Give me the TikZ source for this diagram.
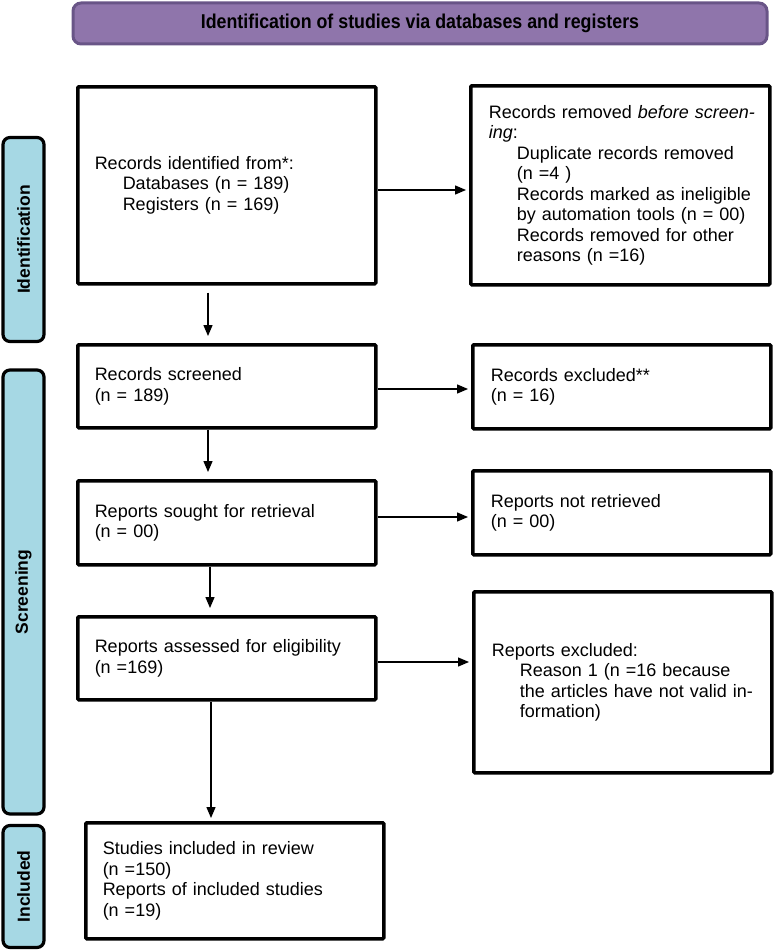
\documentclass[tikz,border=0pt]{standalone}
\usepackage{fontspec}
\setmainfont{Liberation Sans}
\usetikzlibrary{arrows.meta}
\definecolor{hdrfill}{RGB}{143,117,171}
\definecolor{hdrdraw}{RGB}{105,85,135}
\definecolor{tabfill}{RGB}{166,216,228}
\tikzset{
  box/.style={draw=black, line width=3.5pt, fill=white, rounded corners=1pt,
    inner xsep=17pt, inner ysep=0pt, align=left, anchor=north west,
    font=\fontsize{18}{20.5}\selectfont},
  tab/.style={draw=black, line width=3.2pt, fill=tabfill, rounded corners=7pt},
  tablabel/.style={rotate=90, font=\fontsize{17.5}{20}\selectfont\bfseries},
  arr/.style={line width=1.3pt, -{Triangle[length=11pt,width=9pt]}},
}
\begin{document}
\begin{tikzpicture}[x=1pt,y=-1pt]
\useasboundingbox (0,0) rectangle (775,950);
% header
\node[draw=hdrdraw, line width=3pt, fill=hdrfill, rounded corners=8pt,
  minimum width=694pt, minimum height=41pt, inner sep=0pt] (hdr) at (420,23.5)
  {\scalebox{0.89}[1]{\fontsize{20}{22}\selectfont\bfseries Identification of studies via databases and registers}};
% side tabs
\node[tab, minimum width=41pt, minimum height=204pt] (tid) at (23.5,239.5) {};
\node[tablabel] at (tid.center) {Identification};
\node[tab, minimum width=41pt, minimum height=444pt] (tsc) at (23.5,592) {};
\node[tablabel] at (tsc.center) {Screening};
\node[tab, minimum width=41pt, minimum height=122pt] (tin) at (23.5,886.5) {};
\node[tablabel] at (tin.center) {Included};
% left column
\node[box, text width=264pt, minimum height=197pt] (b1) at (76,85) {Records identified from*:\\
\hspace*{28pt}Databases (n = 189)\\
\hspace*{28pt}Registers (n = 169)};
\node[box, text width=264pt, minimum height=83pt] (b2) at (76,343) {Records screened\\(n = 189)};
\node[box, text width=264pt, minimum height=84pt] (b3) at (76,479) {Reports sought for retrieval\\(n = 00)};
\node[box, text width=264pt, minimum height=83pt] (b4) at (76,615) {Reports assessed for eligibility\\(n =169)};
\node[box, text width=264pt, minimum height=116pt] (b5) at (84,821) {Studies included in review\\(n =150)\\Reports of included studies\\(n =19)};
% right column
\node[box, text width=263pt, minimum height=199pt, inner xsep=18pt] (r1) at (469,84) {\mbox{Records removed \textit{before screen-}}\\
\textit{ing}:\\
\hspace*{28pt}Duplicate records removed\\
\hspace*{28pt}(n =4 )\\
\hspace*{28pt}Records marked as ineligible\\
\hspace*{28pt}by automation tools (n = 00)\\
\hspace*{28pt}Records removed for other\\
\hspace*{28pt}reasons (n =16)};
\node[box, text width=262pt, minimum height=84pt, inner xsep=18pt] (r2) at (471,343) {Records excluded**\\(n = 16)};
\node[box, text width=262pt, minimum height=84pt, inner xsep=18pt] (r3) at (471,469) {Reports not retrieved\\(n = 00)};
\node[box, text width=262pt, minimum height=181pt, inner xsep=18pt] (r4) at (472,590) {Reports excluded:\\
\hspace*{28pt}Reason 1 (n =16 because\\
\hspace*{28pt}\mbox{the articles have not valid in-}\\
\hspace*{28pt}formation)};
% vertical arrows
\draw[arr, shorten <=7pt, shorten >=7pt] (b1.south -| 208,0) -- (b2.north -| 208,0);
\draw[arr, shorten >=7pt] (b2.south -| 208,0) -- (b3.north -| 208,0);
\draw[arr, shorten >=7pt] (b3.south -| 210,0) -- (b4.north -| 210,0);
\draw[arr, shorten >=3pt] (b4.south -| 211,0) -- (b5.north -| 211,0);
% horizontal arrows
\draw[arr, shorten >=3pt] (b1.east |- 0,190) -- (r1.west |- 0,190);
\draw[arr, shorten >=3pt] (b2.east |- 0,389) -- (r2.west |- 0,389);
\draw[arr, shorten >=3pt] (b3.east |- 0,517) -- (r3.west |- 0,517);
\draw[arr, shorten >=3pt] (b4.east |- 0,662) -- (r4.west |- 0,662);
\end{tikzpicture}
\end{document}
